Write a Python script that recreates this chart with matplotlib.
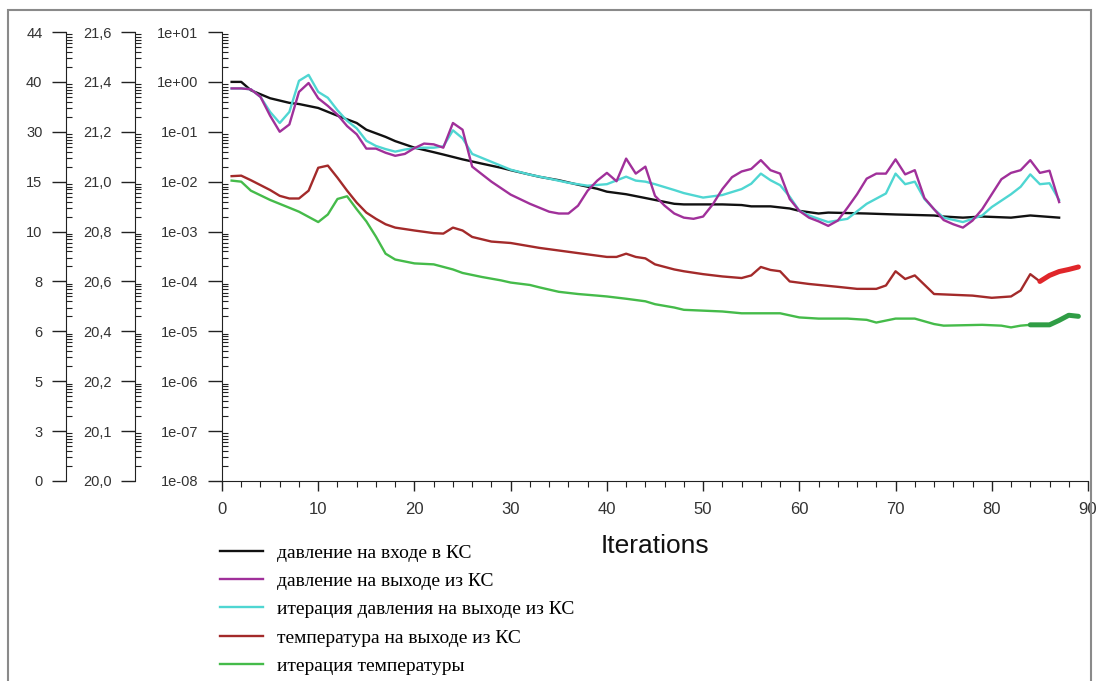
import matplotlib
matplotlib.use("Agg")
import matplotlib.pyplot as plt
from matplotlib import font_manager
from matplotlib.patches import Rectangle
from matplotlib.ticker import LogLocator, MultipleLocator, FixedLocator, NullFormatter

# --- data (log-scale residuals) ---
p_in_it = [1, 2, 3, 5, 7, 8, 10, 12, 14, 15, 17, 18, 20, 22, 23, 25, 27, 29, 30, 33, 35, 37, 39, 40,
           42, 44, 45, 47, 48, 52, 54, 55, 57, 59, 60, 62, 63, 67, 70, 74, 75, 77, 79, 82, 84, 87]
p_in = [1.0, 1.0, 0.68, 0.47, 0.38, 0.36, 0.30, 0.21, 0.15, 0.11, 0.079, 0.065, 0.048, 0.039, 0.035,
        0.028, 0.023, 0.019, 0.017, 0.0125, 0.0107, 0.0087, 0.0072, 0.0063, 0.0056, 0.0047, 0.0043,
        0.0036, 0.0035, 0.0035, 0.0034, 0.0032, 0.0032, 0.0029, 0.0026, 0.0023, 0.0024, 0.0023,
        0.0022, 0.0021, 0.0020, 0.0019, 0.0020, 0.0019, 0.0021, 0.0019]

p_out_it = list(range(1, 27)) + [28, 30, 32, 34] + list(range(35, 88))
p_out = [0.74, 0.74, 0.71, 0.50, 0.21, 0.10, 0.14, 0.63, 0.95, 0.47, 0.33, 0.22, 0.13, 0.089, 0.046,
         0.046, 0.038, 0.033, 0.036, 0.047, 0.058, 0.056, 0.048, 0.15, 0.11, 0.020,
         0.010, 0.0055, 0.0036, 0.0025,
         0.0023, 0.0023, 0.0033, 0.0066, 0.0105, 0.015, 0.0102, 0.029, 0.0145, 0.020, 0.0052, 0.0033,
         0.0023, 0.0019, 0.0018, 0.0020, 0.0035, 0.0071, 0.0123, 0.016, 0.018, 0.027, 0.017, 0.0145,
         0.0045, 0.0026, 0.0019, 0.0016, 0.0013, 0.00166, 0.0030, 0.0056, 0.0115, 0.0145, 0.0145,
         0.028, 0.014, 0.017, 0.0047, 0.0028, 0.0017, 0.0014, 0.0012, 0.00166, 0.0028, 0.0056,
         0.0112, 0.015, 0.017, 0.027, 0.015, 0.0166, 0.0039]

p_iter_it = list(range(1, 27)) + [28, 30, 32, 34, 36, 38, 40, 42, 43, 44, 45, 47, 48, 50, 52, 54,
                                  55, 56, 57, 58, 59, 60, 61, 62, 63, 65, 67, 69, 70, 71, 72, 73,
                                  74, 75, 77, 79, 80, 82, 83, 84, 85, 86, 87]
p_iter = [0.74, 0.74, 0.71, 0.50, 0.25, 0.15, 0.25, 1.05, 1.38, 0.63, 0.48, 0.27, 0.166, 0.117,
          0.066, 0.052, 0.045, 0.040, 0.044, 0.047, 0.048, 0.048, 0.051, 0.107, 0.074, 0.036,
          0.025, 0.0174, 0.0138, 0.0115, 0.0095, 0.0083, 0.0089, 0.0126, 0.0105, 0.0100, 0.0089,
          0.0068, 0.0059, 0.0048, 0.0054, 0.0071, 0.0091, 0.0145, 0.0107, 0.0085, 0.0050, 0.0026,
          0.0021, 0.0018, 0.00155, 0.0018, 0.0036, 0.0058, 0.0145, 0.0089, 0.0100, 0.0045, 0.0028,
          0.0019, 0.00155, 0.0021, 0.0031, 0.0056, 0.0079, 0.014, 0.0089, 0.0093, 0.0043]

t_out_it = [1, 2, 3, 5, 6, 7, 8, 9, 10, 11, 12, 13, 14, 15, 16, 17, 18, 20, 22, 23, 24, 25, 26, 28,
            30, 33, 37, 40, 41, 42, 43, 44, 45, 47, 48, 50, 52, 54, 55, 56, 57, 58, 59, 61, 64, 66,
            68, 69, 70, 71, 72, 74, 78, 80, 82, 83, 84, 85]
t_out = [0.0129, 0.0132, 0.0107, 0.0068, 0.0052, 0.0046, 0.0046, 0.0066, 0.019, 0.021, 0.012,
         0.0066, 0.0038, 0.0024, 0.0018, 0.0014, 0.0012, 0.00105, 0.00093, 0.00091, 0.0012,
         0.00105, 7.8e-4, 6.3e-4, 5.9e-4, 4.7e-4, 3.7e-4, 3.1e-4, 3.1e-4, 3.6e-4, 3.1e-4, 2.9e-4,
         2.2e-4, 1.74e-4, 1.6e-4, 1.4e-4, 1.26e-4, 1.17e-4, 1.32e-4, 1.95e-4, 1.7e-4, 1.6e-4,
         1.0e-4, 8.9e-5, 7.8e-5, 7.1e-5, 7.1e-5, 8.3e-5, 1.6e-4, 1.12e-4, 1.32e-4, 5.6e-5, 5.2e-5,
         4.7e-5, 5.0e-5, 6.6e-5, 1.4e-4, 1.0e-4]
t_out_last_it = [85, 86, 87, 88, 89]
t_out_last = [1.0e-4, 1.32e-4, 1.58e-4, 1.74e-4, 1.95e-4]

t_iter_it = [1, 2, 3, 5, 7, 8, 10, 11, 12, 13, 14, 15, 16, 17, 18, 20, 22, 24, 25, 27, 29, 30, 32,
             33, 35, 37, 39, 40, 42, 44, 45, 47, 48, 52, 54, 58, 60, 62, 65, 67, 68, 70, 72, 74, 75,
             79, 81, 82, 83, 84]
t_iter = [0.0105, 0.010, 0.0066, 0.0043, 0.0030, 0.0025, 0.00155, 0.0022, 0.0045, 0.0051, 0.0028,
          0.0016, 7.9e-4, 3.6e-4, 2.75e-4, 2.3e-4, 2.2e-4, 1.74e-4, 1.48e-4, 1.23e-4, 1.05e-4,
          9.5e-5, 8.5e-5, 7.6e-5, 6.2e-5, 5.6e-5, 5.2e-5, 5.0e-5, 4.5e-5, 4.0e-5, 3.5e-5, 3.0e-5,
          2.7e-5, 2.5e-5, 2.3e-5, 2.3e-5, 1.9e-5, 1.8e-5, 1.8e-5, 1.7e-5, 1.5e-5, 1.8e-5, 1.8e-5,
          1.4e-5, 1.3e-5, 1.35e-5, 1.3e-5, 1.2e-5, 1.3e-5, 1.35e-5]
t_iter_last_it = [84, 86, 87, 88, 89]
t_iter_last = [1.35e-5, 1.35e-5, 1.66e-5, 2.1e-5, 2.0e-5]

labels = ["давление на входе в КС", "давление на выходе из КС",
          "итерация давления на выходе из КС", "температура на выходе из КС",
          "итерация температуры"]

decades = [1e-8, 1e-7, 1e-6, 1e-5, 1e-4, 1e-3, 1e-2, 1e-1, 1e0, 1e1]
axis1_labels = ["0", "3", "5", "6", "8", "10", "15", "30", "40", "44"]
axis2_labels = ["20,0", "20,1", "20,2", "20,4", "20,6", "20,8", "21,0", "21,2", "21,4", "21,6"]
axis3_labels = ["1e-08", "1e-07", "1e-06", "1e-05", "1e-04", "1e-03", "1e-02", "1e-01", "1e+00", "1e+01"]

# --- fonts ---
installed = {f.name for f in font_manager.fontManager.ttflist}
narrow = "Liberation Sans Narrow" if "Liberation Sans Narrow" in installed else "Liberation Sans"

W, H = 1099, 681
fig = plt.figure(figsize=(W / 100, H / 100), dpi=100)
bottom = 1 - 481 / H
height = (481 - 32) / H


def setup_y(ax, ticklabels):
    ax.set_yscale("log")
    ax.set_ylim(1e-8, 1e1)
    ax.yaxis.set_major_locator(FixedLocator(decades))
    ax.set_yticklabels(ticklabels, fontfamily="Liberation Sans", fontsize=10.5, color="#333333")
    ax.yaxis.set_minor_locator(LogLocator(base=10, subs=range(2, 10), numticks=20))
    ax.yaxis.set_minor_formatter(NullFormatter())
    ax.tick_params(axis="y", which="major", direction="out", length=10, width=1, pad=7, color="#222222")
    ax.tick_params(axis="y", which="minor", direction="in", length=4, width=0.8, color="#222222")
    ax.spines["left"].set_color("#222222")
    for s in ("top", "right"):
        ax.spines[s].set_visible(False)


# outer scale axes
for x_spine, lab in [(66, axis1_labels), (135, axis2_labels)]:
    a = fig.add_axes([x_spine / W, bottom, 0.0005, height])
    a.patch.set_visible(False)
    setup_y(a, lab)
    a.spines["bottom"].set_visible(False)
    a.set_xticks([])

# main axes
ax = fig.add_axes([222 / W, bottom, (1088 - 222) / W, height])
ax.patch.set_visible(False)
setup_y(ax, axis3_labels)
ax.set_xlim(0, 90)
ax.xaxis.set_major_locator(MultipleLocator(10))
ax.xaxis.set_minor_locator(MultipleLocator(2))
ax.tick_params(axis="x", which="major", direction="out", length=7, width=1, pad=8,
               labelsize=12, labelcolor="#333333", color="#222222")
ax.tick_params(axis="x", which="minor", direction="out", length=4, width=0.8, color="#222222")
for t in ax.get_xticklabels():
    t.set_fontfamily(narrow)
ax.spines["bottom"].set_color("#222222")

lw = 1.7
h1, = ax.plot(p_in_it, p_in, color="#111111", lw=lw)
h2, = ax.plot(p_iter_it, p_iter, color="#4fd6d2", lw=lw)
h3, = ax.plot(p_out_it, p_out, color="#a0309a", lw=lw)
h4, = ax.plot(t_out_it, t_out, color="#a32a2a", lw=lw)
ax.plot(t_out_last_it, t_out_last, color="#e0262a", lw=3.6, solid_capstyle="round")
h5, = ax.plot(t_iter_it, t_iter, color="#45bb4a", lw=lw)
ax.plot(t_iter_last_it, t_iter_last, color="#2f9d45", lw=3.6, solid_capstyle="round")

ax.set_xlabel("Iterations", fontfamily="Liberation Sans", fontsize=19, color="#111111")
ax.xaxis.set_label_coords(0.5, -0.118)

fig.legend([h1, h3, h2, h4, h5], labels, loc="upper left",
           bbox_to_anchor=(220 / W, 1 - 544 / H), frameon=False,
           prop={"family": "Liberation Serif", "size": 14},
           handlelength=2.2, handletextpad=0.75, labelspacing=0.55,
           borderpad=0, borderaxespad=0)

# grey frame around the picture
fig.add_artist(Rectangle((8 / W, -0.05), (1091 - 8) / W, 1.05 - 10 / H, transform=fig.transFigure,
                         fill=False, edgecolor="#8a8a8a", lw=1.5))

fig.savefig("out.png", dpi=100)
